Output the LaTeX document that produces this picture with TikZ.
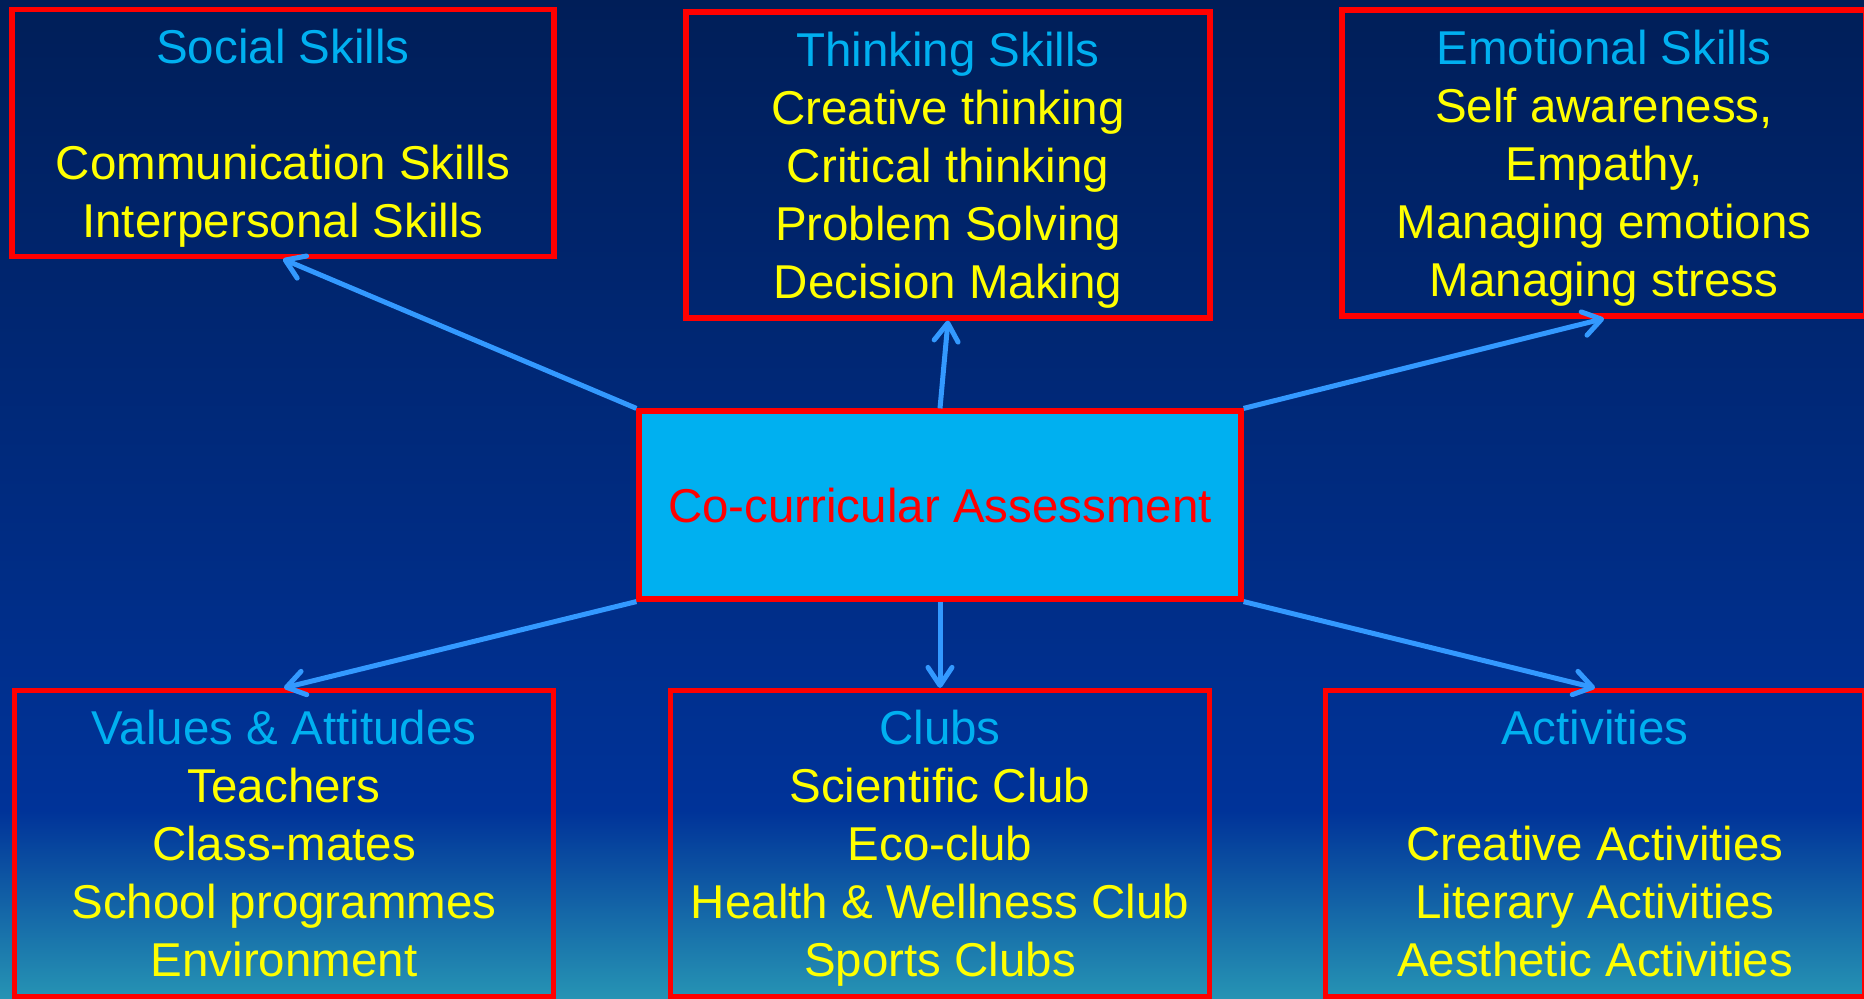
\documentclass[tikz,border=0pt]{standalone}
\usepackage{fontspec}
\setmainfont{Liberation Sans}
\usepackage{tikz}
\usetikzlibrary{arrows.meta,positioning,calc}

\definecolor{navytop}{RGB}{0,30,88}
\definecolor{navymid}{RGB}{0,51,153}
\definecolor{tealbot}{RGB}{38,148,180}
\definecolor{headcyan}{RGB}{0,176,240}
\definecolor{itemyellow}{RGB}{255,255,0}
\definecolor{linkblue}{RGB}{51,153,255}

\newcommand{\boxhead}[1]{\textcolor{headcyan}{#1}}

\begin{document}
\begin{tikzpicture}[x=0.5pt,y=-0.5pt,>={Straight Barb[length=9pt,width=12pt,round]}]
\tikzstyle{skillbox}=[draw=red, line width=2.6pt, align=center,
inner sep=0pt, text=itemyellow, text depth=0pt,
font=\fontsize{23.75}{29}\selectfont]
\tikzstyle{link}=[->, draw=linkblue, line width=2.5pt]

\useasboundingbox (0,0) rectangle (1864,999);
%background
\shade[top color=navytop, bottom color=navymid] (0,0) rectangle (1864,812);
\shade[top color=navymid, bottom color=tealbot] (0,811) rectangle (1864,999);

\node[skillbox, fill=headcyan, text=red, minimum width=301pt,
minimum height=94pt] (assess) at (940,505) {Co-curricular Assessment};

%top row
\node[skillbox, minimum width=271pt, minimum height=123.5pt]
(social) at (283,133) {\boxhead{Social Skills}\\[\baselineskip]
Communication Skills\\ Interpersonal Skills};

\node[skillbox, minimum width=262pt, minimum height=153pt]
(thinking) at (948,165) {\boxhead{Thinking Skills}\\ Creative thinking\\
Critical thinking\\ Problem Solving\\ Decision Making};

\node[skillbox, minimum width=262pt, minimum height=153pt]
(emotional) at (1604,163) {\boxhead{Emotional Skills}\\ Self awareness,\\
Empathy,\\ Managing emotions\\ Managing stress};

%bottom row
\node[skillbox, minimum width=269.5pt, minimum height=153pt]
(values) at (284,843.5) {\boxhead{Values \& Attitudes}\\ Teachers\\
Class-mates\\ School programmes\\ Environment};

\node[skillbox, minimum width=269.5pt, minimum height=153pt]
(clubs) at (940,843.5) {\boxhead{Clubs}\\ Scientific Club\\ Eco-club\\
Health \& Wellness Club\\ Sports Clubs};

\node[skillbox, minimum width=269.5pt, minimum height=153pt]
(activities) at (1595,843.5) {\boxhead{Activities}\\[\baselineskip]
Creative Activities\\ Literary Activities\\ Aesthetic Activities};

%links
\draw[link] (assess.north west) -- (social.south);
\draw[link] (assess.north) -- (thinking.south);
\draw[link] (assess.north east) -- (emotional.south);
\draw[link] (assess.south west) -- (values.north);
\draw[link] (assess.south) -- (clubs.north);
\draw[link] (assess.south east) -- (activities.north);

\end{tikzpicture}
\end{document}
